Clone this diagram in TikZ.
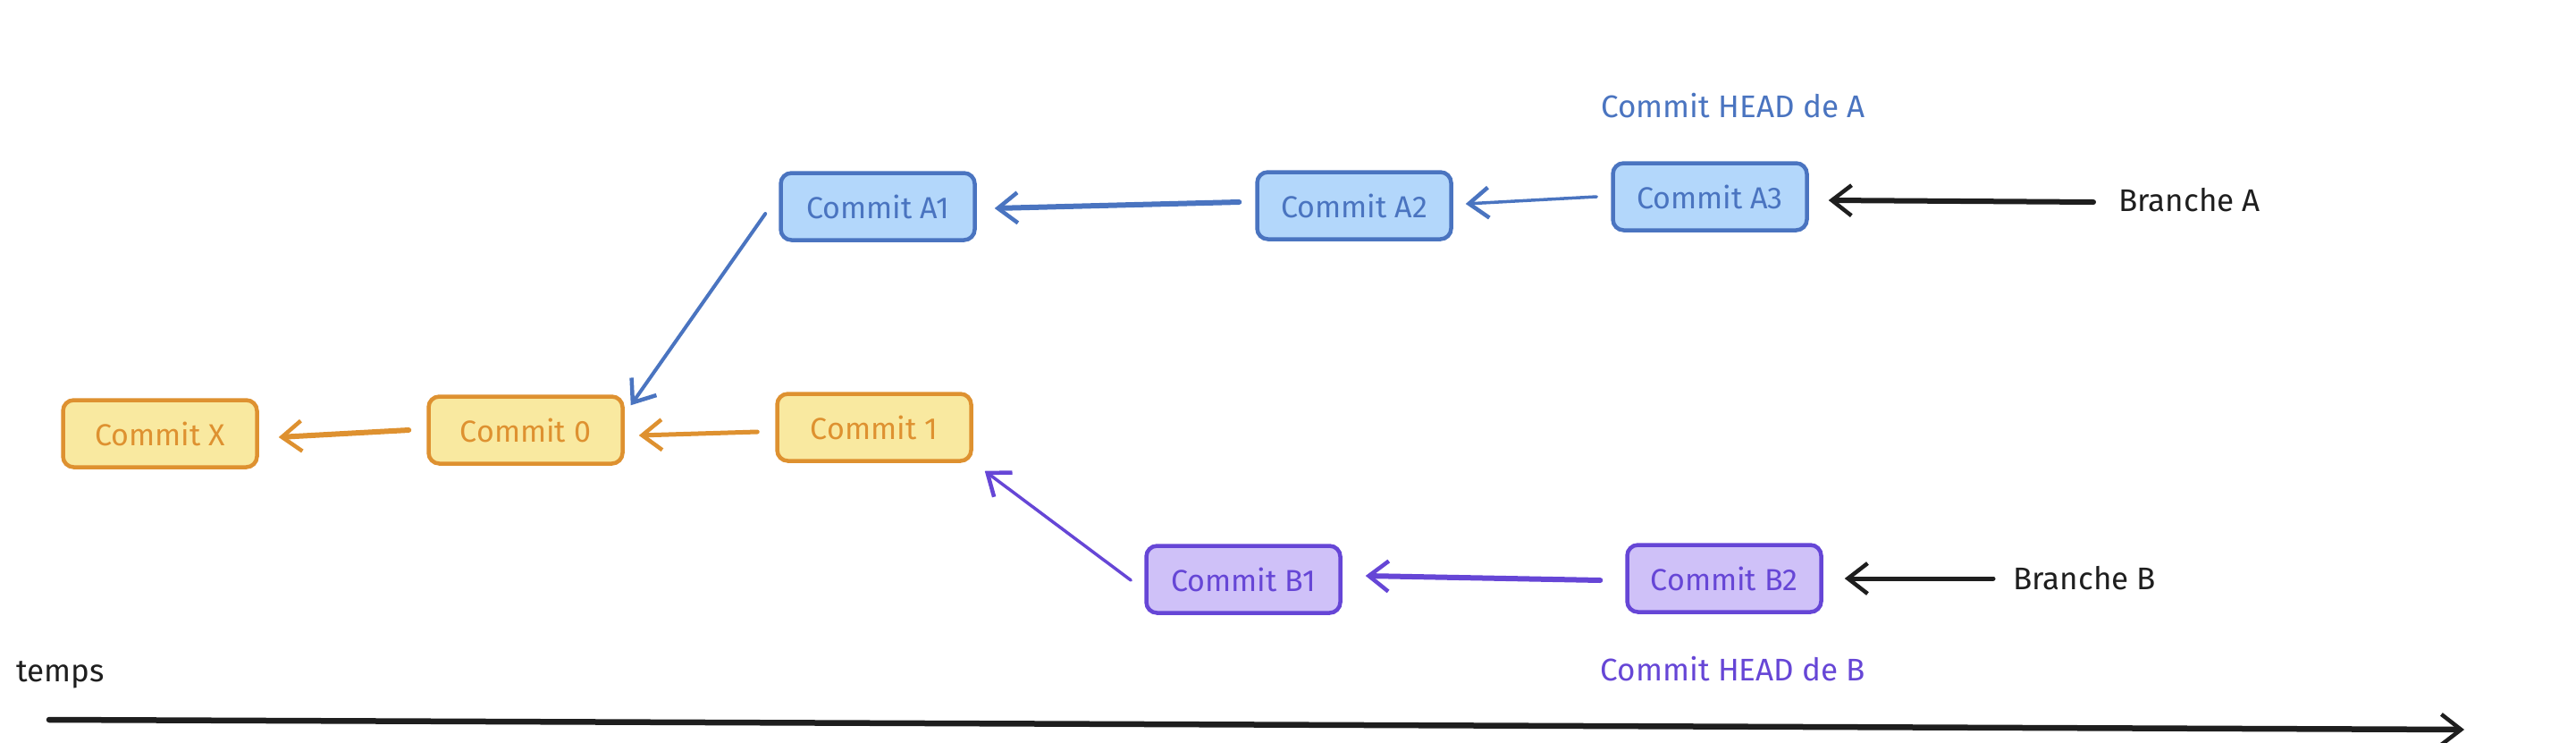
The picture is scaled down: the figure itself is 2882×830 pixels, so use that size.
\documentclass[tikz,border=0pt]{standalone}
\usepackage{fontspec}
\setmainfont{Fira Sans}
\usetikzlibrary{arrows.meta}
\definecolor{yfill}{HTML}{F9E9A0}
\definecolor{ystroke}{HTML}{DE9130}
\definecolor{bfill}{HTML}{B3D7FB}
\definecolor{bstroke}{HTML}{4A74C0}
\definecolor{pfill}{HTML}{CFC1F8}
\definecolor{pstroke}{HTML}{6646D6}
\definecolor{ink}{HTML}{1E1E1E}
\tikzset{
  commit/.style={rounded corners=12pt, line width=4.5pt, minimum width=217pt, minimum height=75pt, inner sep=0pt, font=\fontsize{34}{38}\selectfont},
  ybox/.style={commit, draw=ystroke, fill=yfill, text=ystroke},
  bbox/.style={commit, draw=bstroke, fill=bfill, text=bstroke},
  pbox/.style={commit, draw=pstroke, fill=pfill, text=pstroke},
  conn/.style={line width=5pt, line cap=round, -{Straight Barb[length=22pt,width=34pt,line width=4.5pt]}},
  lbl/.style={font=\fontsize{35}{40}\selectfont, inner sep=0pt},
}
\begin{document}
\begin{tikzpicture}[x=1pt,y=-1pt]
\useasboundingbox (0,0) rectangle (2882,830);
% nodes
\node[ybox] (CX) at (179,485) {Commit X};
\node[ybox] (C0) at (588,481) {Commit 0};
\node[ybox] (C1) at (978,478) {Commit 1};
\node[bbox] (A1) at (982,231) {Commit A1};
\node[bbox] (A2) at (1515,230) {Commit A2};
\node[bbox] (A3) at (1913,220) {Commit A3};
\node[pbox] (B1) at (1391,648) {Commit B1};
\node[pbox] (B2) at (1929,647) {Commit B2};
\node[lbl, text=bstroke] (HA) at (1939,118) {Commit HEAD de A};
\node[lbl, text=pstroke] (HB) at (1939,748) {Commit HEAD de B};
\node[lbl, text=ink, anchor=west] (BA) at (2370,224) {Branche A};
\node[lbl, text=ink, anchor=west] (BB) at (2252,647) {Branche B};
\node[lbl, text=ink, anchor=west] (T) at (18,755) {temps};
\coordinate (t0) at (55,805);
\coordinate (t1) at (2757,816);
% connectors
\draw[conn, draw=bstroke, line width=3.5pt] ([xshift=-16pt]A3.west) -- ([xshift=14pt,yshift=2pt]A2.east);
\draw[conn, draw=bstroke, line width=6pt] ([xshift=-18pt,yshift=4pt]A2.west) -- ([xshift=20pt,yshift=-2pt]A1.east);
\draw[conn, draw=bstroke, line width=4pt] ([xshift=-15pt,yshift=-8pt]A1.west) -- ([xshift=7pt,yshift=-12pt]C0.north east);
\draw[conn, draw=ystroke] ([xshift=-20pt,yshift=-5pt]C1.west) -- ([xshift=16pt,yshift=-6pt]C0.east);
\draw[conn, draw=ystroke, line width=6pt] ([xshift=-20pt]C0.west) -- ([xshift=22pt,yshift=-4pt]CX.east);
\draw[conn, draw=pstroke, line width=3.5pt] ([xshift=-15pt,yshift=-1pt]B1.west) -- ([xshift=13pt,yshift=-9pt]C1.south east);
\draw[conn, draw=pstroke, line width=6pt] ([xshift=-28pt,yshift=-2pt]B2.west) -- ([xshift=26pt,yshift=4pt]B1.east);
\draw[conn, draw=ink, line width=6pt] ([xshift=-28pt,yshift=-2pt]BA.west) -- ([xshift=22pt,yshift=-4pt]A3.east);
\draw[conn, draw=ink] ([xshift=-22pt]BB.west) -- ([xshift=24pt]B2.east);
\draw[conn, draw=ink, line width=6.5pt] (t0) -- (t1);
\end{tikzpicture}
\end{document}
